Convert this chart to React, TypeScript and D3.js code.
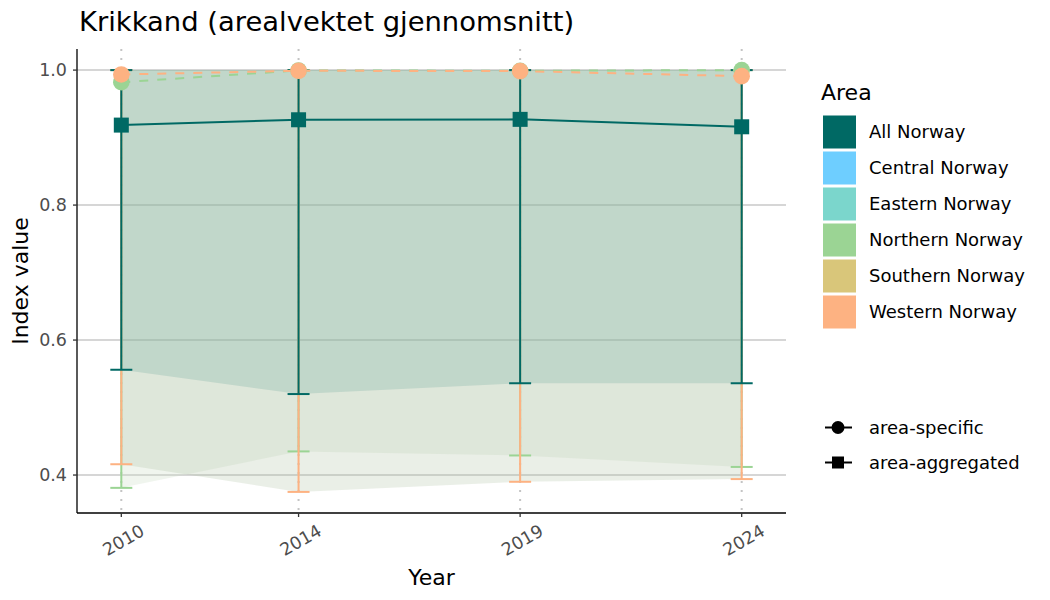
import React from "react";
import * as d3 from "d3";

const years = [2010, 2014, 2019, 2024];
const yTicks = [0.4, 0.6, 0.8, 1.0];

const allNorwayMean = [0.9185, 0.9264, 0.927, 0.916];
const allNorwayLow = [0.556, 0.52, 0.536, 0.536];
const allNorwayHigh = [1.0, 1.0, 1.0, 1.0];

const northernMean = [0.982, 0.9995, 0.999, 1.0];
const northernLow = [0.381, 0.435, 0.429, 0.412];
const northernHigh = [1.0, 1.0, 1.0, 1.0];

const westernMean = [0.9935, 0.999, 0.9985, 0.991];
const westernLow = [0.416, 0.375, 0.39, 0.394];
const westernHigh = [1.0, 1.0, 1.0, 1.0];

const areaNames = [
  "All Norway",
  "Central Norway",
  "Eastern Norway",
  "Northern Norway",
  "Southern Norway",
  "Western Norway",
];
const areaColors = ["#006964", "#6ECEFF", "#7BD6CC", "#9BD494", "#D9C67A", "#FDB282"];
const shapeLabels = ["area-specific", "area-aggregated"];

const W = 1050;
const H = 600;
const FONT = "DejaVu Sans, Verdana, sans-serif";

type Series = {
  name: string;
  mean: number[];
  low: number[];
  high: number[];
  color: string;
  ribbonFill: string;
  ribbonOpacity: number;
  dashed: boolean;
  shape: "circle" | "square";
};

const series: Series[] = [
  {
    name: "Northern Norway",
    mean: northernMean,
    low: northernLow,
    high: northernHigh,
    color: areaColors[3],
    ribbonFill: "#CDDEC8",
    ribbonOpacity: 0.3,
    dashed: true,
    shape: "circle",
  },
  {
    name: "Western Norway",
    mean: westernMean,
    low: westernLow,
    high: westernHigh,
    color: areaColors[5],
    ribbonFill: "#A8BE9B",
    ribbonOpacity: 0.24,
    dashed: true,
    shape: "circle",
  },
  {
    name: "All Norway",
    mean: allNorwayMean,
    low: allNorwayLow,
    high: allNorwayHigh,
    color: areaColors[0],
    ribbonFill: "#006964",
    ribbonOpacity: 0.13,
    dashed: false,
    shape: "square",
  },
];

export default function App() {
  const left = 77;
  const right = 786;
  const top = 49;
  const bottom = 513;

  const x = d3.scaleLinear().domain([2009.0, 2025.0]).range([left, right]);
  const y = d3.scaleLinear().domain([0.34375, 1.03125]).range([bottom, top]);

  const ribbonPath = (s: Series) =>
    d3
      .area<number>()
      .x((_, i) => x(years[i]))
      .y0((_, i) => y(s.low[i]))
      .y1((_, i) => y(s.high[i]))(s.mean) || "";

  const linePath = (s: Series) =>
    d3
      .line<number>()
      .x((_, i) => x(years[i]))
      .y((d) => y(d))(s.mean) || "";

  const capHalf = 11;

  return (
    <svg
      width={W}
      height={H}
      style={{ display: "block", background: "#fff", position: "absolute", left: 0, top: 0 }}
      fontFamily={FONT}
    >
      {/* title */}
      <text x={79} y={31} fontSize={27.4} fill="#000">
        Krikkand (arealvektet gjennomsnitt)
      </text>

      {/* grid */}
      {yTicks.map((t) => (
        <line key={"gy" + t} x1={left} x2={right} y1={y(t)} y2={y(t)} stroke="#c9c9c9" strokeWidth={1.5} />
      ))}
      {years.map((yr) => (
        <line
          key={"gx" + yr}
          x1={x(yr)}
          x2={x(yr)}
          y1={top}
          y2={bottom}
          stroke="#c4c4c4"
          strokeWidth={2}
          strokeDasharray="2,7"
        />
      ))}

      {/* ribbons */}
      {series.map((s) => (
        <path key={"rb" + s.name} d={ribbonPath(s)} fill={s.ribbonFill} fillOpacity={s.ribbonOpacity} stroke="none" />
      ))}

      {/* error bars */}
      {series.map((s) => (
        <g key={"eb" + s.name} stroke={s.color} strokeWidth={2}>
          {years.map((yr, i) => (
            <g key={yr}>
              <line x1={x(yr)} x2={x(yr)} y1={y(s.low[i])} y2={y(s.high[i])} />
              <line x1={x(yr) - capHalf} x2={x(yr) + capHalf} y1={y(s.low[i])} y2={y(s.low[i])} />
              <line x1={x(yr) - capHalf} x2={x(yr) + capHalf} y1={y(s.high[i])} y2={y(s.high[i])} />
            </g>
          ))}
        </g>
      ))}

      {/* lines */}
      {series.map((s) => (
        <path
          key={"ln" + s.name}
          d={linePath(s)}
          fill="none"
          stroke={s.color}
          strokeWidth={2}
          strokeDasharray={s.dashed ? "9,9" : undefined}
        />
      ))}

      {/* points */}
      {series.map((s) => (
        <g key={"pt" + s.name} fill={s.color}>
          {years.map((yr, i) =>
            s.shape === "circle" ? (
              <circle key={yr} cx={x(yr)} cy={y(s.mean[i])} r={8.3} />
            ) : (
              <rect key={yr} x={x(yr) - 7.5} y={y(s.mean[i]) - 7.5} width={15} height={15} />
            )
          )}
        </g>
      ))}

      {/* axes */}
      <line x1={left} x2={left} y1={top} y2={bottom} stroke="#000" strokeWidth={1.3} />
      <line x1={left} x2={right} y1={bottom} y2={bottom} stroke="#000" strokeWidth={1.3} />
      {yTicks.map((t) => (
        <g key={"yt" + t}>
          <line x1={left - 4} x2={left} y1={y(t)} y2={y(t)} stroke="#333" strokeWidth={1.3} />
          <text x={left - 10} y={y(t)} dy="0.36em" textAnchor="end" fontSize={17.5} fill="#4d4d4d">
            {d3.format(".1f")(t)}
          </text>
        </g>
      ))}
      {years.map((yr) => (
        <g key={"xt" + yr}>
          <line x1={x(yr)} x2={x(yr)} y1={bottom} y2={bottom + 4} stroke="#333" strokeWidth={1.3} />
          <text
            transform={`translate(${x(yr) + 2},${bottom + 27}) rotate(-30)`}
            textAnchor="middle"
            dy="0.36em"
            fontSize={17.5}
            fill="#4d4d4d"
          >
            {yr}
          </text>
        </g>
      ))}
      <text x={(left + right) / 2} y={585} textAnchor="middle" fontSize={22} fill="#000">
        Year
      </text>
      <text
        transform={`translate(28,${(top + bottom) / 2}) rotate(-90)`}
        textAnchor="middle"
        fontSize={22}
        fill="#000"
      >
        Index value
      </text>

      {/* legend: area */}
      <text x={821} y={100} fontSize={22} fill="#000">
        Area
      </text>
      {areaNames.map((n, i) => (
        <g key={"lg" + n}>
          <rect x={823} y={115.5 + i * 36} width={33} height={33} fill={areaColors[i]} />
          <text x={869} y={115.5 + i * 36 + 16.5} dy="0.36em" fontSize={18} fill="#000">
            {n}
          </text>
        </g>
      ))}

      {/* legend: shape */}
      {shapeLabels.map((n, i) => {
        const cy = 427.5 + i * 35;
        return (
          <g key={"sh" + n}>
            <line x1={825} x2={852} y1={cy} y2={cy} stroke="#000" strokeWidth={2} />
            {i === 0 ? (
              <circle cx={838} cy={cy} r={6.5} fill="#000" />
            ) : (
              <rect x={832} y={cy - 6} width={12} height={12} fill="#000" />
            )}
            <text x={869} y={cy} dy="0.36em" fontSize={18} fill="#000">
              {n}
            </text>
          </g>
        );
      })}
    </svg>
  );
}
